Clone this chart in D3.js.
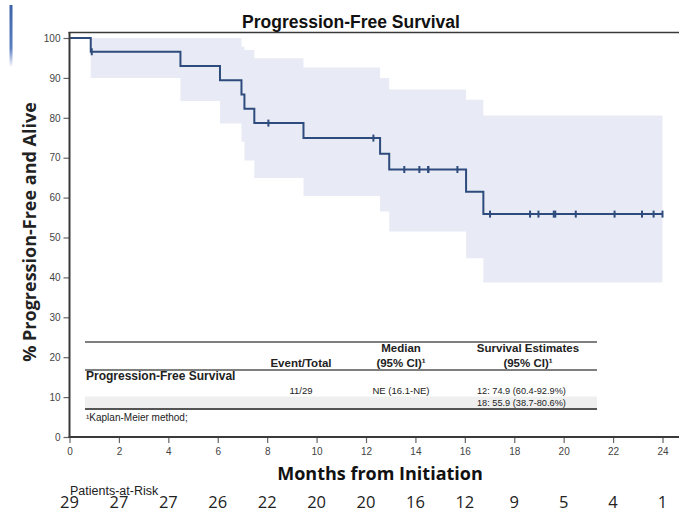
<!DOCTYPE html>
<html>
<head>
<meta charset="utf-8">
<script src="https://cdn.jsdelivr.net/npm/d3@7"></script>
<style>
  html, body { margin: 0; padding: 0; background: #fff; }
  svg { display: block; }
</style>
</head>
<body>
<svg id="chart" width="679" height="511"></svg>
<script>
// Kaplan-Meier estimate: step times (months) and survival (%)
const stepTimes  = [0, 0.86, 4.49, 6.09, 6.96, 7.08, 7.48, 9.47, 12.57, 12.94, 16.05, 16.75];
const survival   = [100, 96.55, 92.98, 89.40, 85.83, 82.25, 78.67, 74.92, 70.98, 67.04, 61.45, 55.86];
// 95% confidence band, one value per step
const ciUpper    = [100, 100, 100, 100, 97.8, 97.0, 94.9, 92.6, 90.0, 87.1, 84.5, 80.6];
const ciLower    = [100, 90.0, 84.2, 78.6, 74.0, 69.3, 64.9, 60.4, 56.5, 51.5, 44.8, 38.7];
// Censored observations (months)
const censorTimes = [0.9, 8.05, 12.3, 13.55, 14.16, 14.52, 14.52, 15.7, 17.02, 18.64, 18.98,
                     19.6, 19.66, 20.49, 22.06, 23.17, 23.64, 24.0];
const maxMonth = 24;

// Axis ticks
const xTicks = d3.range(0, 26, 2);
const yTicks = d3.range(0, 110, 10);

// Patients at risk, one per x tick
const riskTimes  = [0, 2, 4, 6, 8, 10, 12, 14, 16, 18, 20, 22, 24];
const riskCounts = [29, 27, 27, 26, 22, 20, 20, 16, 12, 9, 5, 4, 1];

// Summary table text
const tableHeaders = [
  { col: "event",  lines: ["Event/Total"] },
  { col: "median", lines: ["Median", "(95% CI)¹"] },
  { col: "est",    lines: ["Survival Estimates", "(95% CI)¹"] }
];
const rowLabel   = "Progression-Free Survival";
const eventTotal = "11/29";
const medianText = "NE (16.1-NE)";
const estimates  = ["12: 74.9 (60.4-92.9%)", "18: 55.9 (38.7-80.6%)"];
const footnote   = "¹Kaplan-Meier method;";

const svg = d3.select("#chart");
const plotLeft = 69.5, plotRight = 662.5, plotTop = 38, plotBottom = 437;

const x = d3.scaleLinear().domain([0, maxMonth]).range([plotLeft, plotRight]);
const y = d3.scaleLinear().domain([0, 100]).range([plotBottom, plotTop]);

const lineColor = "#2e4b7d";
const bandColor = "#e8ebf5";

// Decorative edge stroke at upper left
const grad = svg.append("defs").append("linearGradient")
  .attr("id", "edge").attr("x1", 0).attr("y1", 0).attr("x2", 0).attr("y2", 1);
grad.append("stop").attr("offset", "0%").attr("stop-color", "#3d63a8");
grad.append("stop").attr("offset", "70%").attr("stop-color", "#5b7fbf");
grad.append("stop").attr("offset", "100%").attr("stop-color", "#5b7fbf").attr("stop-opacity", 0);
svg.append("rect").attr("x", 9.5).attr("y", 5).attr("width", 3).attr("height", 62)
  .attr("fill", "url(#edge)");

// Confidence band as a step area
const bandData = stepTimes.map((t, i) => ({ t, lo: ciLower[i], hi: ciUpper[i] }));
bandData.push({ t: maxMonth, lo: ciLower[ciLower.length - 1], hi: ciUpper[ciUpper.length - 1] });
svg.append("path")
  .datum(bandData)
  .attr("fill", bandColor)
  .attr("d", d3.area().curve(d3.curveStepAfter)
    .x(d => x(d.t)).y0(d => y(d.lo)).y1(d => y(d.hi)));

// Survival step line
const lineData = stepTimes.map((t, i) => ({ t, s: survival[i] }));
lineData.push({ t: maxMonth, s: survival[survival.length - 1] });
svg.append("path")
  .datum(lineData)
  .attr("fill", "none")
  .attr("stroke", lineColor)
  .attr("stroke-width", 2)
  .attr("d", d3.line().curve(d3.curveStepAfter).x(d => x(d.t)).y(d => y(d.s)));

// Censor marks
function survAt(t) {
  let s = 100;
  stepTimes.forEach((st, i) => { if (st <= t) s = survival[i]; });
  return s;
}
svg.append("g").selectAll("line")
  .data(censorTimes)
  .join("line")
  .attr("x1", d => x(d)).attr("x2", d => x(d))
  .attr("y1", d => y(survAt(d)) - 3.5).attr("y2", d => y(survAt(d)) + 3.5)
  .attr("stroke", lineColor).attr("stroke-width", 2);

// Axes
const axisColor = "#3a3a3a";
const tickText = "#444";
const yAxis = svg.append("g")
  .attr("transform", `translate(${plotLeft},0)`)
  .call(d3.axisLeft(y).tickValues(yTicks).tickSize(6).tickPadding(3).tickSizeOuter(0));
const xAxis = svg.append("g")
  .attr("transform", `translate(0,${plotBottom})`)
  .call(d3.axisBottom(x).tickValues(xTicks).tickSize(6).tickPadding(5).tickSizeOuter(0));
[xAxis, yAxis].forEach(g => {
  g.select(".domain").remove();
  g.selectAll(".tick line").attr("stroke", "#666").attr("stroke-width", 1.2);
  g.selectAll(".tick text").attr("fill", tickText)
    .style("font-family", "'Liberation Sans', Arial, sans-serif").style("font-size", "10px");
});

// Frame: left axis, bottom axis, top border
svg.append("line").attr("x1", plotLeft).attr("x2", plotLeft).attr("y1", 32).attr("y2", plotBottom)
  .attr("stroke", axisColor).attr("stroke-width", 2);
svg.append("line").attr("x1", plotLeft - 1).attr("x2", 679).attr("y1", plotBottom).attr("y2", plotBottom)
  .attr("stroke", axisColor).attr("stroke-width", 2);
svg.append("line").attr("x1", plotLeft - 1).attr("x2", 679).attr("y1", 32.5).attr("y2", 32.5)
  .attr("stroke", axisColor).attr("stroke-width", 1.5);

// Title
svg.append("text").attr("x", 351).attr("y", 28).attr("text-anchor", "middle")
  .style("font-family", "'Liberation Sans', Arial, sans-serif").style("font-weight", "bold")
  .style("font-size", "17.5px").attr("fill", "#111").text("Progression-Free Survival");

// Axis titles
svg.append("text")
  .attr("transform", `translate(36,232) rotate(-90)`)
  .attr("text-anchor", "middle")
  .style("font-family", "'Open Sans', sans-serif").style("font-weight", "bold")
  .style("font-size", "18px").attr("fill", "#222").text("% Progression-Free and Alive");
svg.append("text").attr("x", 380).attr("y", 480).attr("text-anchor", "middle")
  .style("font-family", "'Open Sans', sans-serif").style("font-weight", "bold")
  .style("font-size", "18px").attr("fill", "#111").text("Months from Initiation");

// Patients at risk
svg.append("text").attr("x", 70).attr("y", 494.5)
  .style("font-family", "'Liberation Sans', Arial, sans-serif").style("font-size", "12.5px")
  .attr("fill", "#222").text("Patients-at-Risk");
svg.append("g").selectAll("text")
  .data(riskTimes)
  .join("text")
  .attr("x", d => x(d)).attr("y", 507.5).attr("text-anchor", "middle")
  .style("font-family", "'Open Sans', sans-serif").style("font-size", "16.5px")
  .attr("fill", "#222")
  .text((d, i) => riskCounts[i]);

// Summary table
const tbl = svg.append("g");
const tLeft = 85, tRight = 597;
const colX = { event: 301, median: 401, est: 528 };
const tFont = "'Liberation Sans', Arial, sans-serif";
tbl.append("rect").attr("x", tLeft).attr("y", 396.5).attr("width", tRight - tLeft).attr("height", 12)
  .attr("fill", "#efefef");
tbl.append("line").attr("x1", tLeft).attr("x2", tRight).attr("y1", 342).attr("y2", 342)
  .attr("stroke", "#555").attr("stroke-width", 1.5);
tbl.append("line").attr("x1", tLeft).attr("x2", tRight).attr("y1", 370).attr("y2", 370)
  .attr("stroke", "#555").attr("stroke-width", 1.5);
tbl.append("line").attr("x1", tLeft).attr("x2", tRight).attr("y1", 409).attr("y2", 409)
  .attr("stroke", "#555").attr("stroke-width", 2);

tableHeaders.forEach(h => {
  const lines = h.lines;
  lines.forEach((ln, j) => {
    const yy = 366.5 - (lines.length - 1 - j) * 14.5;
    tbl.append("text").attr("x", colX[h.col]).attr("y", yy).attr("text-anchor", "middle")
      .style("font-family", tFont).style("font-weight", "bold").style("font-size", "11.5px")
      .attr("fill", "#222").text(ln);
  });
});
tbl.append("text").attr("x", 86).attr("y", 380)
  .style("font-family", tFont).style("font-weight", "bold").style("font-size", "12px")
  .attr("fill", "#222").text(rowLabel);
tbl.append("text").attr("x", colX.event).attr("y", 394).attr("text-anchor", "middle")
  .style("font-family", tFont).style("font-size", "9.5px").attr("fill", "#222").text(eventTotal);
tbl.append("text").attr("x", colX.median).attr("y", 394).attr("text-anchor", "middle")
  .style("font-family", tFont).style("font-size", "9.5px").attr("fill", "#222").text(medianText);
estimates.forEach((e, i) => {
  tbl.append("text").attr("x", 477).attr("y", 394 + i * 12)
    .style("font-family", tFont).style("font-size", "9.2px").attr("fill", "#222").text(e);
});
tbl.append("text").attr("x", 86).attr("y", 421)
  .style("font-family", tFont).style("font-size", "10px").attr("fill", "#222").text(footnote);
</script>
</body>
</html>
